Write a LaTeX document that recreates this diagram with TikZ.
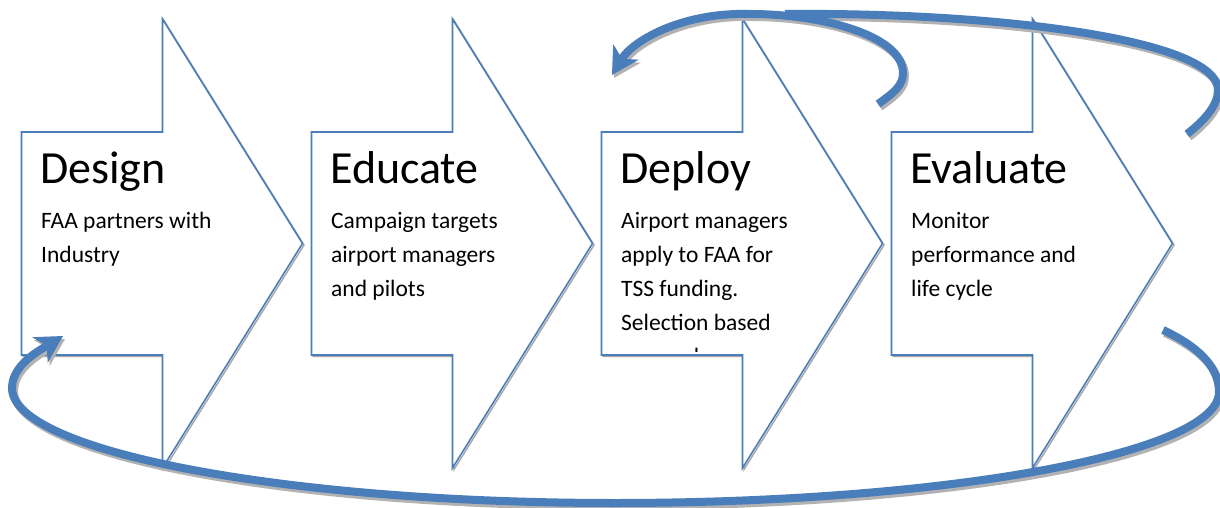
\documentclass[tikz,border=0pt]{standalone}
\usepackage{fontspec}
\setmainfont{Carlito}
\usetikzlibrary{arrows.meta}
\definecolor{stageblue}{RGB}{74,126,187}

\begin{document}
\begin{tikzpicture}[x=1pt,y=-1pt,
  stage/.style={draw=stageblue,line width=1.6pt,fill=white,line join=miter},
  stageshadow/.style={draw=black!35,line width=1.4pt,shift={(1.5,1.5)}},
  stagetitle/.style={anchor=base west,inner sep=0pt,font=\fontsize{46}{55}\selectfont},
  stagebody/.style={anchor=base west,inner sep=0pt,align=left,font=\fontsize{23.5}{34}\selectfont},
  loopline/.style={draw=stageblue,line width=8pt,-{Stealth[length=27pt,width=30pt,inset=8pt,line width=0pt]}},
  loopback/.style={draw=stageblue,line width=8pt},
  loopshadow/.style={draw=black!30,transform canvas={xshift=2pt,yshift=-3pt}}]
\fill[white] (0,0) rectangle (1220,508);
\useasboundingbox (0,0) rectangle (1220,508);

\draw[stageshadow] (21.5,132) -- (162.5,132) -- (162.5,19) -- (302.5,243.5) -- (162.5,468) -- (162.5,355) -- (21.5,355) -- cycle;
\draw[stage] (21.5,132) -- (162.5,132) -- (162.5,19) -- (302.5,243.5) -- (162.5,468) -- (162.5,355) -- (21.5,355) -- cycle;
\draw[stageshadow] (311.5,132) -- (452.5,132) -- (452.5,19) -- (592.5,243.5) -- (452.5,468) -- (452.5,355) -- (311.5,355) -- cycle;
\draw[stage] (311.5,132) -- (452.5,132) -- (452.5,19) -- (592.5,243.5) -- (452.5,468) -- (452.5,355) -- (311.5,355) -- cycle;
\draw[stageshadow] (601.5,132) -- (742.5,132) -- (742.5,19) -- (882.5,243.5) -- (742.5,468) -- (742.5,355) -- (601.5,355) -- cycle;
\draw[stage] (601.5,132) -- (742.5,132) -- (742.5,19) -- (882.5,243.5) -- (742.5,468) -- (742.5,355) -- (601.5,355) -- cycle;
\draw[stageshadow] (891.5,132) -- (1032.5,132) -- (1032.5,19) -- (1172.5,243.5) -- (1032.5,468) -- (1032.5,355) -- (891.5,355) -- cycle;
\draw[stage] (891.5,132) -- (1032.5,132) -- (1032.5,19) -- (1172.5,243.5) -- (1032.5,468) -- (1032.5,355) -- (891.5,355) -- cycle;

\node[stagetitle] (design) at (40,183) {Design};
\node[stagebody] (designtext) at (41,262) {FAA partners with\\Industry};
\node[stagetitle] (educate) at (330,183) {Educate};
\node[stagebody] (educatetext) at (331,296) {Campaign targets\\airport managers\\and pilots};
\node[stagetitle] (deploy) at (620,183) {Deploy};
\begin{scope}
\clip (601.5,132) rectangle (900,351);
\node[stagebody] (deploytext) at (621,364) {Airport managers\\apply to FAA for\\TSS funding.\\Selection based\\on need};
\end{scope}
\node[stagetitle] (evaluate) at (910,183) {Evaluate};
\node[stagebody] (evaluatetext) at (911,296) {Monitor\\performance and\\life cycle};

\coordinate (backstart) at (1163,330);
\coordinate (backtip) at (63,336);
\coordinate (bigstart) at (1187,134);
\coordinate (bigend) at (785,14);
\coordinate (loopstart) at (878,104);
\coordinate (looptip) at (612,75);

\draw[loopline,loopshadow] (backstart) .. controls (1195,345) and (1219,365) .. (1219,392) .. controls (1219,453) and (948,503) .. (615,503) .. controls (282,503) and (12,451) .. (12,388) .. controls (12,365) and (40,350) .. (backtip);
\draw[loopline] (backstart) .. controls (1195,345) and (1219,365) .. (1219,392) .. controls (1219,453) and (948,503) .. (615,503) .. controls (282,503) and (12,451) .. (12,388) .. controls (12,365) and (40,350) .. (backtip);
\draw[loopback,loopshadow] (bigstart) .. controls (1205,120) and (1218,105) .. (1218,90) .. controls (1218,40) and (1000,12) .. (bigend);
\draw[loopback] (bigstart) .. controls (1205,120) and (1218,105) .. (1218,90) .. controls (1218,40) and (1000,12) .. (bigend);
\draw[loopline,loopshadow] (loopstart) .. controls (895,92) and (903,85) .. (903,73) .. controls (903,35) and (820,14) .. (750,14) .. controls (680,12) and (632,42) .. (looptip);
\draw[loopline] (loopstart) .. controls (895,92) and (903,85) .. (903,73) .. controls (903,35) and (820,14) .. (750,14) .. controls (680,12) and (632,42) .. (looptip);
\end{tikzpicture}
\end{document}
